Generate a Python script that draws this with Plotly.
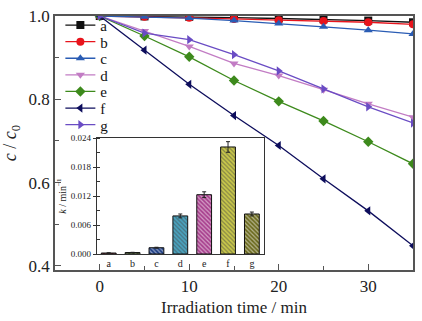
import plotly.graph_objects as go

# Photocatalytic degradation: relative concentration vs irradiation time
time_min = [0, 5, 10, 15, 20, 25, 30, 35]
series_names = ["a", "b", "c", "d", "e", "f", "g"]
conc_a = [1.000, 0.999, 0.998, 0.996, 0.994, 0.992, 0.989, 0.985]
conc_b = [1.000, 0.998, 0.996, 0.993, 0.990, 0.988, 0.985, 0.980]
conc_c = [1.000, 0.998, 0.995, 0.989, 0.982, 0.974, 0.966, 0.957]
conc_d = [1.000, 0.964, 0.927, 0.886, 0.857, 0.823, 0.789, 0.757]
conc_e = [1.000, 0.952, 0.902, 0.845, 0.795, 0.748, 0.698, 0.645]
conc_f = [1.000, 0.918, 0.836, 0.761, 0.689, 0.609, 0.532, 0.448]
conc_g = [1.000, 0.959, 0.943, 0.907, 0.868, 0.825, 0.782, 0.743]

# Apparent rate constants (inset)
rate_k = [0.0002, 0.0003, 0.0013, 0.0079, 0.0123, 0.0222, 0.0083]
rate_err = [0.00005, 0.00005, 0.0001, 0.0004, 0.0006, 0.0011, 0.0004]

line_colors = ["#111111", "#e8141c", "#2a5cb4", "#c27cc4", "#3d8a1c", "#0d0d5c", "#6a4cc4"]
symbols = ["square", "circle", "triangle-up", "triangle-down", "diamond",
           "triangle-left", "triangle-right"]
bar_colors = ["#8a1a2a", "#4e6e2a", "#1f3f86", "#4aa3bf", "#a8408e", "#c9c84a", "#6b6a1e"]

SERIF = "Liberation Serif, Times New Roman, DejaVu Serif, serif"
AXIS_COLOR = "#555555"

fig = go.Figure()

all_conc = [conc_a, conc_b, conc_c, conc_d, conc_e, conc_f, conc_g]
for name, y, col, sym in zip(series_names, all_conc, line_colors, symbols):
    fig.add_trace(go.Scatter(
        x=time_min, y=y, name=name, mode="lines+markers",
        line=dict(color=col, width=1.3),
        marker=dict(symbol=sym, size=8, color=col),
        xaxis="x", yaxis="y",
    ))

fig.add_trace(go.Bar(
    x=series_names, y=rate_k,
    error_y=dict(type="data", array=rate_err, color="#222222", thickness=1, width=2),
    marker=dict(
        color=bar_colors,
        line=dict(color="#111111", width=1),
        pattern=dict(shape="\\", fgcolor="#1a1a1a", size=3, solidity=0.4),
    ),
    showlegend=False,
    xaxis="x2", yaxis="y2",
))

fig.update_layout(
    width=422, height=321,
    margin=dict(l=55, r=7, t=10, b=41),
    paper_bgcolor="white", plot_bgcolor="white",
    font=dict(family=SERIF, color="#222222"),
    bargap=0.38,
    xaxis=dict(
        range=[-5, 35], dtick=10, tick0=0,
        ticks="inside", ticklen=6, tickwidth=1.2, tickcolor=AXIS_COLOR,
        minor=dict(dtick=5, ticks="inside", ticklen=4, tickcolor=AXIS_COLOR),
        showline=True, linecolor=AXIS_COLOR, linewidth=1.5, mirror=True,
        showgrid=False, zeroline=False,
        tickfont=dict(size=17, family=SERIF),
        title=dict(text="Irradiation time / min", font=dict(size=17, family=SERIF), standoff=6),
    ),
    yaxis=dict(
        range=[0.39, 1.0], dtick=0.2, tick0=0.4, tickformat=".1f",
        ticks="inside", ticklen=6, tickwidth=1.2, tickcolor=AXIS_COLOR,
        minor=dict(dtick=0.1, ticks="inside", ticklen=4, tickcolor=AXIS_COLOR),
        showline=True, linecolor=AXIS_COLOR, linewidth=1.5, mirror=True,
        showgrid=False, zeroline=False,
        tickfont=dict(size=17, family=SERIF),
        title=dict(text="<i>c</i> / <i>c</i><sub>0</sub>", font=dict(size=18, family=SERIF), standoff=8),
    ),
    xaxis2=dict(
        domain=[0.1167, 0.5833], anchor="y2",
        range=[-0.5, 6.5],
        showline=True, linecolor="#333333", linewidth=1.2, mirror=True,
        ticks="", showgrid=False, zeroline=False,
        tickfont=dict(size=10, family=SERIF),
    ),
    yaxis2=dict(
        domain=[0.063, 0.5185], anchor="x2",
        range=[0, 0.024], dtick=0.006, tickformat=".3f",
        ticks="outside", ticklen=3, tickcolor="#333333",
        minor=dict(dtick=0.003, ticks="inside", ticklen=3, tickcolor="#333333"),
        showline=True, linecolor="#333333", linewidth=1.2, mirror=True,
        showgrid=False, zeroline=False,
        tickfont=dict(size=9, family=SERIF),
        title=dict(text="<i>k</i> / min<sup>−1</sup>", font=dict(size=10, family=SERIF), standoff=2),
    ),
    legend=dict(
        x=0.015, y=0.985, xanchor="left", yanchor="top",
        bgcolor="rgba(0,0,0,0)", borderwidth=0,
        font=dict(size=15, family=SERIF, color="#111111"),
        tracegroupgap=0,
    ),
)

# Tighten the vertical spacing of legend entries once the plot is drawn
legend_js = """
var gd = document.getElementById('{plot_id}');
var items = gd.querySelectorAll('.legend .traces');
if (items.length) {
  var m = /translate\\(\\s*([-\\d.]+)[\\s,]+([-\\d.]+)\\s*\\)/.exec(items[0].getAttribute('transform') || '');
  if (m) {
    var x0 = parseFloat(m[1]);
    var y0 = parseFloat(m[2]) - 11;
    items.forEach(function (el, i) {
      el.setAttribute('transform', 'translate(' + x0 + ',' + (y0 + i * 16.6) + ')');
    });
  }
}
"""

fig.write_html("out.html", post_script=legend_js)
